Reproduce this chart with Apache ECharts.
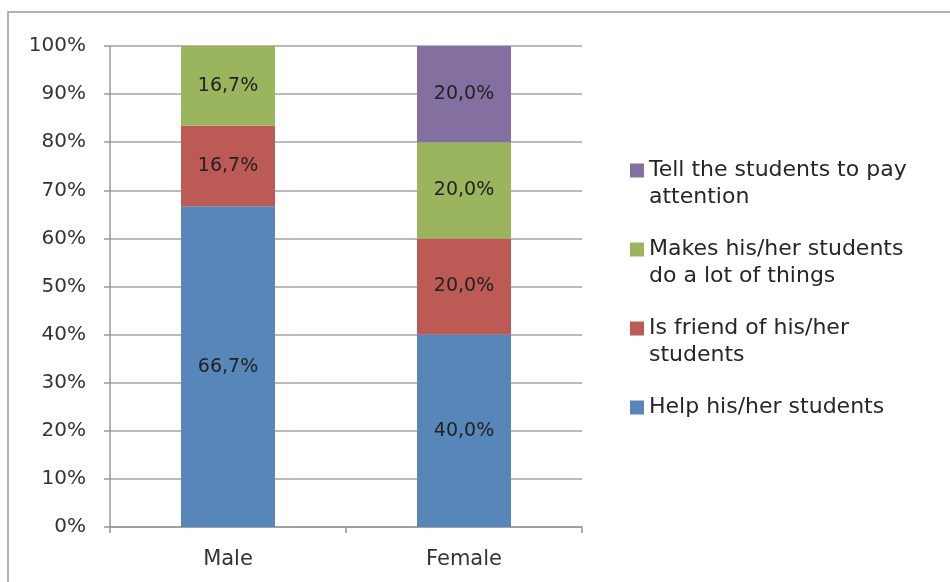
<!DOCTYPE html>
<html><head><meta charset="utf-8">
<script src="https://cdn.jsdelivr.net/npm/echarts@6/dist/echarts.min.js"></script>
<style>html,body{margin:0;padding:0;background:#fff}#c{width:950px;height:582px}</style>
</head><body><div id="c"></div>
<script>
const categories = ['Male', 'Female'];
const helpStudents = [66.7, 40.0];
const friendStudents = [16.7, 20.0];
const makesThings = [16.7, 20.0];
const tellAttention = [null, 20.0];
const seriesNames = ['Help his/her students', 'Is friend of his/her students', 'Makes his/her students do a lot of things', 'Tell the students to pay attention'];
const legendLines = {
  'Help his/her students': ['Help his/her students', ''],
  'Is friend of his/her students': ['Is friend of his/her', 'students'],
  'Makes his/her students do a lot of things': ['Makes his/her students', 'do a lot of things'],
  'Tell the students to pay attention': ['Tell the students to pay', 'attention']
};
const colors = ['#5787B8', '#BC5A55', '#9BB45E', '#8470A0'];
const FONT = 'DejaVu Sans';

const chart = echarts.init(document.getElementById('c'));
function mk(name, data, color) {
  return {
    name, type: 'bar', stack: 'total', data, barWidth: 94,
    itemStyle: { color },
    label: {
      show: true, position: 'inside', color: '#222',
      fontFamily: FONT, fontSize: 19,
      formatter: p => (p.value == null || p.value === 0) ? '' : p.value.toFixed(1).replace('.', ',') + '%'
    }
  };
}
chart.setOption({
  animation: false,
  textStyle: { fontFamily: FONT },
  grid: { left: 110, right: 368, top: 46, bottom: 55 },
  graphic: [{
    type: 'rect', shape: { x: 8, y: 12, width: 1000, height: 700 },
    style: { fill: 'none', stroke: '#9a9a9a', lineWidth: 1.5 }, silent: true, z: -1
  }],
  legend: {
    orient: 'vertical', left: 625, top: 125,
    itemWidth: 14, itemHeight: 14, itemGap: -2,
    icon: 'rect',
    textStyle: { fontFamily: FONT, fontSize: 22, color: '#262626', lineHeight: 27 },
    formatter: n => '\n' + legendLines[n].join('\n'),
    data: seriesNames.slice().reverse()
  },
  xAxis: {
    type: 'category', data: categories,
    axisLine: { lineStyle: { color: '#999', width: 1.5 } },
    axisTick: { show: true, length: 6, lineStyle: { color: '#999', width: 1.5 } },
    axisLabel: { fontFamily: FONT, fontSize: 21, color: '#333', margin: 22 }
  },
  yAxis: {
    type: 'value', min: 0, max: 100, interval: 10,
    axisLine: { show: true, lineStyle: { color: '#999', width: 1.5 } },
    axisTick: { show: true, length: 6, lineStyle: { color: '#999', width: 1.5 } },
    splitLine: { lineStyle: { color: '#a3a3a3', width: 1.5 } },
    axisLabel: { fontFamily: FONT, fontSize: 20, color: '#333', margin: 24, formatter: '{value}%' }
  },
  series: [
    mk(seriesNames[0], helpStudents, colors[0]),
    mk(seriesNames[1], friendStudents, colors[1]),
    mk(seriesNames[2], makesThings, colors[2]),
    mk(seriesNames[3], tellAttention, colors[3])
  ]
});
</script></body></html>
